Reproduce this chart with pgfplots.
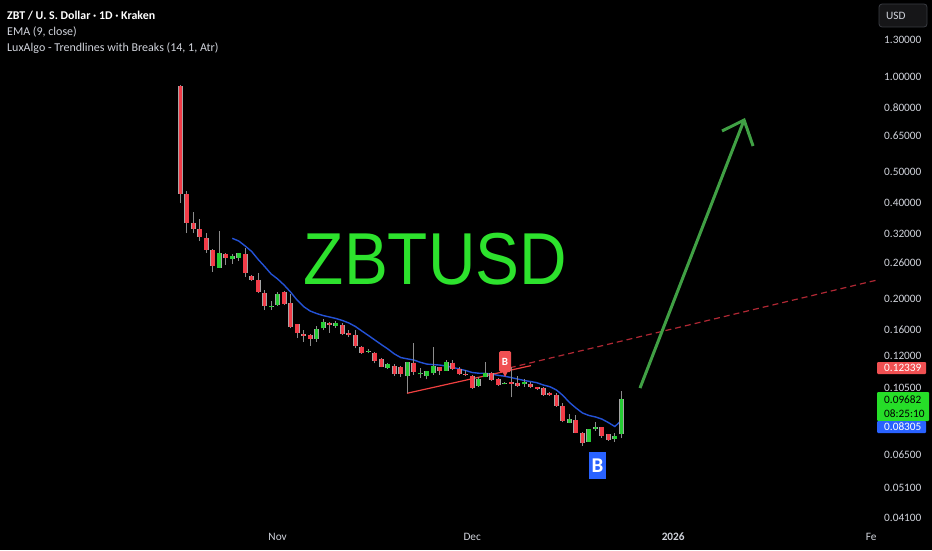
\documentclass[border=0pt]{standalone}
\usepackage{fontspec}
\setmainfont{Carlito}
\newfontfamily\arialf{Liberation Sans}
\usepackage{graphicx}
\usepackage{pgfplots}
\usepackage{pgfplotstable}
\pgfplotsset{compat=1.18}
\definecolor{tvtext}{RGB}{209,212,220}
\definecolor{cred}{RGB}{242,60,72}
\definecolor{cgreen}{RGB}{38,204,52}
\definecolor{cborder}{RGB}{165,165,165}
\definecolor{cwick}{RGB}{140,140,140}
\definecolor{emablue}{RGB}{36,82,214}
\definecolor{trendred}{RGB}{240,64,64}
\definecolor{dashred}{RGB}{176,40,52}
\definecolor{arrowgreen}{RGB}{64,160,68}
\definecolor{bigtext}{RGB}{45,226,45}
\definecolor{lblred}{RGB}{240,80,82}
\definecolor{lblgreen}{RGB}{38,222,40}
\definecolor{lblblue}{RGB}{41,98,255}

% wicks: low / high per day, nan separates candles
\pgfplotstableread{
d p
-15 0.4005
-15 0.940
nan nan
-14 0.3224
-14 0.4369
nan nan
-13 0.3224
-13 0.3753
nan nan
-12 0.3043
-12 0.3568
nan nan
-11 0.2790
-11 0.3224
nan nan
-10 0.2432
-10 0.2870
nan nan
-9 0.2503
-9 0.3271
nan nan
-8 0.2558
-8 0.2790
nan nan
-7 0.2576
-7 0.2770
nan nan
-6 0.2633
-6 0.2790
nan nan
-5 0.2345
-5 0.2893
nan nan
-4 0.2278
-4 0.2379
nan nan
-3 0.2088
-3 0.2414
nan nan
-2 0.1847
-2 0.2134
nan nan
-1 0.1847
-1 0.1971
nan nan
0 0.1901
0 0.2103
nan nan
1 0.1915
1 0.2119
nan nan
2 0.1618
2 0.2073
nan nan
3 0.1508
3 0.1669
nan nan
4 0.1468
4 0.1598
nan nan
5 0.1426
5 0.1558
nan nan
6 0.1468
6 0.1649
nan nan
7 0.1598
7 0.1727
nan nan
8 0.1567
8 0.1689
nan nan
9 0.1625
9 0.1702
nan nan
10 0.1541
10 0.1677
nan nan
11 0.1516
11 0.1601
nan nan
12 0.1399
12 0.1598
nan nan
13 0.1344
13 0.1423
nan nan
14 0.1350
14 0.1390
nan nan
15 0.1256
15 0.1366
nan nan
16 0.1220
16 0.1302
nan nan
17 0.1205
17 0.1261
nan nan
18 0.1145
18 0.1247
nan nan
19 0.1137
19 0.1231
nan nan
20 0.1011
20 0.1265
nan nan
21 0.1154
21 0.1457
nan nan
22 0.1129
22 0.1218
nan nan
23 0.1119
23 0.1187
nan nan
24 0.1154
24 0.1416
nan nan
25 0.1154
25 0.1220
nan nan
26 0.1190
26 0.1286
nan nan
27 0.1196
27 0.1286
nan nan
28 0.1154
28 0.1222
nan nan
29 0.1144
29 0.1200
nan nan
30 0.1043
30 0.1151
nan nan
31 0.1060
31 0.1134
nan nan
32 0.1134
32 0.1270
nan nan
33 0.1107
33 0.1181
nan nan
34 0.1066
34 0.1127
nan nan
35 0.1079
35 0.1099
nan nan
36 0.0982
36 0.1225
nan nan
37 0.1060
37 0.1144
nan nan
38 0.1060
38 0.1119
nan nan
39 0.1048
39 0.1099
nan nan
40 0.1035
40 0.1060
nan nan
41 0.0991
41 0.1056
nan nan
42 0.0991
42 0.1022
nan nan
43 0.0917
43 0.1011
nan nan
44 0.0819
44 0.0940
nan nan
45 0.0813
45 0.0870
nan nan
46 0.0757
46 0.0864
nan nan
47 0.0692
47 0.0766
nan nan
48 0.0712
48 0.0779
nan nan
49 0.0771
49 0.0819
nan nan
50 0.0733
50 0.0790
nan nan
51 0.0717
51 0.0753
nan nan
52 0.0712
52 0.0757
nan nan
53 0.0730
53 0.1028
}\wicks

% red (falling) bodies: open / close
\pgfplotstableread{
d p
-15 0.934
-15 0.4275
nan nan
-14 0.4275
-14 0.3466
nan nan
-13 0.3466
-13 0.3319
nan nan
-12 0.3319
-12 0.3132
nan nan
-11 0.3110
-11 0.2851
nan nan
-10 0.2851
-10 0.2539
nan nan
-8 0.2770
-8 0.2691
nan nan
-5 0.2770
-5 0.2414
nan nan
-4 0.2362
-4 0.2295
nan nan
-3 0.2295
-3 0.2103
nan nan
-2 0.2088
-2 0.1901
nan nan
1 0.2099
1 0.1928
nan nan
2 0.1938
2 0.1637
nan nan
3 0.1665
3 0.1560
nan nan
4 0.1552
4 0.1525
nan nan
5 0.1536
5 0.1497
nan nan
8 0.1687
8 0.1655
nan nan
10 0.1653
10 0.1549
nan nan
11 0.1560
11 0.1536
nan nan
12 0.1538
12 0.1420
nan nan
13 0.1416
13 0.1353
nan nan
15 0.1356
15 0.1279
nan nan
16 0.1295
16 0.1225
nan nan
18 0.1231
18 0.1166
nan nan
19 0.1220
19 0.1162
nan nan
21 0.1261
21 0.1179
nan nan
25 0.1220
25 0.1190
nan nan
27 0.1263
27 0.1202
nan nan
28 0.1203
28 0.1160
nan nan
29 0.1162
29 0.1151
nan nan
30 0.1143
30 0.1048
nan nan
33 0.1168
33 0.1113
nan nan
34 0.1119
34 0.1073
nan nan
36 0.1095
36 0.1079
nan nan
37 0.1087
37 0.1068
nan nan
39 0.1079
39 0.1056
nan nan
40 0.1056
40 0.1043
nan nan
41 0.1048
41 0.0998
nan nan
42 0.1015
42 0.0998
nan nan
43 0.0998
43 0.0922
nan nan
44 0.0922
44 0.0827
nan nan
46 0.0833
46 0.0760
nan nan
47 0.0757
47 0.0704
nan nan
50 0.0790
50 0.0742
nan nan
51 0.0753
51 0.0721
}\redbodies

% green (rising) bodies: open / close
\pgfplotstableread{
d p
-9 0.2503
-9 0.2790
nan nan
-7 0.2671
-7 0.2730
nan nan
-6 0.2700
-6 0.2780
nan nan
-1 0.1887
-1 0.1901
nan nan
0 0.1921
0 0.2073
nan nan
6 0.1497
6 0.1610
nan nan
7 0.1618
7 0.1693
nan nan
9 0.1649
9 0.1677
nan nan
14 0.1363
14 0.1371
nan nan
17 0.1212
17 0.1247
nan nan
20 0.1145
20 0.1265
nan nan
22 0.1159
22 0.1168
nan nan
23 0.1145
23 0.1187
nan nan
24 0.1170
24 0.1234
nan nan
26 0.1190
26 0.1268
nan nan
31 0.1067
31 0.1123
nan nan
32 0.1134
32 0.1173
nan nan
35 0.1079
35 0.1089
nan nan
38 0.1079
38 0.1095
nan nan
45 0.0817
45 0.0839
nan nan
48 0.0712
48 0.0779
nan nan
49 0.0779
49 0.0794
nan nan
52 0.0726
52 0.0744
nan nan
53 0.0751
53 0.09682
}\greenbodies

% EMA (9, close)
\pgfplotstableread{
d p
-7 0.3103
-6 0.3043
-5 0.2935
-4 0.2820
-3 0.2663
-2 0.2530
-1 0.2397
0 0.2312
1 0.2213
2 0.2103
3 0.1985
4 0.1894
5 0.1834
6 0.1801
7 0.1775
8 0.1756
9 0.1737
10 0.1712
11 0.1681
12 0.1639
13 0.1586
14 0.1536
15 0.1486
16 0.1438
17 0.1393
18 0.1344
19 0.1309
20 0.1297
21 0.1286
22 0.1265
23 0.1249
24 0.1244
25 0.1240
26 0.1231
27 0.1220
28 0.1205
29 0.1192
30 0.1175
31 0.1169
32 0.1168
33 0.1162
34 0.1151
35 0.1144
36 0.1133
37 0.1121
38 0.1109
39 0.1101
40 0.1091
41 0.1073
42 0.1060
43 0.1035
44 0.0995
45 0.0946
46 0.0909
47 0.0877
48 0.0861
49 0.0852
50 0.0839
51 0.0818
52 0.0795
53 0.08305
}\ema

\begin{document}
\begin{tikzpicture}
\useasboundingbox (0pt,0pt) rectangle (932pt,550pt);
\fill[black] (0pt,0pt) rectangle (932pt,550pt);
\begin{axis}[
  at={(0pt,23pt)}, anchor=south west,
  scale only axis, width=876pt, height=527pt,
  xmin=-42.81, xmax=92.27,
  ymode=log, ymin=0.03842, ymax=1.7403,
  axis line style={draw=none},
  tick style={draw=none},
  major tick length=0pt, minor tick length=0pt,
  xtick={0,30,61,92},
  xticklabels={Nov,Dec,\textbf{2026},Feb},
  xticklabel style={anchor=center, inner sep=0pt, yshift=-9.5pt,
    font=\fontsize{11.3}{13}\selectfont, text=tvtext},
  ytick={1.3,1,0.8,0.65,0.5,0.4,0.32,0.26,0.2,0.16,0.105,0.065,0.051,0.041},
  yticklabels={1.30000,1.00000,0.80000,0.65000,0.50000,0.40000,0.32000,0.26000,0.20000,0.16000,0.10500,0.06500,0.05100,0.04100},
  yticklabel pos=right,
  yticklabel style={anchor=west, inner sep=0pt, xshift=8pt,
    font=\fontsize{11.3}{13}\selectfont, text=tvtext},
  unbounded coords=jump,
]
% EMA
\addplot[emablue, line width=1.4pt, mark=none] table[x=d,y=p] {\ema};
% trendline (solid part and dashed extension)
\addplot[trendred, line width=1.2pt, mark=none] coordinates {(19.95,0.1011) (39.07,0.1235)};
\addplot[dashred, line width=1.2pt, dash pattern=on 6pt off 4pt, mark=none] coordinates {(35.8,0.1216) (92.27,0.2290)};
% candles
\addplot[cwick, line width=1pt, mark=none] table[x=d,y=p] {\wicks};
\addplot[cborder, line width=5pt, mark=none] table[x=d,y=p] {\redbodies};
\addplot[cred, line width=3.6pt, mark=none] table[x=d,y=p] {\redbodies};
\addplot[cborder, line width=5pt, mark=none] table[x=d,y=p] {\greenbodies};
\addplot[cgreen, line width=3.6pt, mark=none] table[x=d,y=p] {\greenbodies};
% drawn arrow
\addplot[arrowgreen, line width=3pt, mark=none] coordinates {(55.88,0.1050) (71.93,0.7303)};
\addplot[arrowgreen, line width=3pt, mark=none, line join=miter] coordinates {(68.53,0.6744) (71.93,0.7303) (73.31,0.6051)};
\end{axis}
\begin{scope}[shift={(0pt,550pt)}, x=1pt, y=-1pt]
  % clip the time-scale label under the price scale
  \fill[black] (876,527) rectangle (932,550);
  % header
  \node[anchor=base west, inner sep=0pt, text=white, font=\fontsize{11.9}{13}\selectfont\bfseries] at (7,19.8) {ZBT / U. S. Dollar · 1D · Kraken};
  \node[anchor=base west, inner sep=0pt, text=tvtext, font=\fontsize{12}{13}\selectfont] at (7,36) {EMA (9, close)};
  \node[anchor=base west, inner sep=0pt, text=tvtext, font=\fontsize{12}{13}\selectfont] at (7,52) {LuxAlgo - Trendlines with Breaks (14, 1, Atr)};
  % big title
  \node[inner sep=0pt, text=bigtext, font=\arialf\fontsize{73.6}{80}\selectfont] at (435.5,258.7) {\scalebox{0.894}[1]{ZBTUSD}};
  % USD button
  \draw[draw={rgb,255:red,58;green,60;blue,66}, fill={rgb,255:red,22;green,22;blue,24}, rounded corners=3pt, line width=0.8pt] (879,4) rectangle (927,27);
  \node[anchor=west, inner sep=0pt, text=tvtext, font=\fontsize{11.3}{13}\selectfont] at (886,15.5) {USD};
  % scale label just above the red price label
  \node[anchor=west, inner sep=0pt, text=tvtext, font=\fontsize{11.3}{13}\selectfont] at (884,356) {0.12000};
  % price labels
  \fill[lblred, rounded corners=1pt] (877,362) rectangle (926,374);
  \node[anchor=west, inner sep=0pt, text=white, font=\fontsize{11.3}{13}\selectfont] at (884,368) {0.12339};
  \fill[lblgreen, rounded corners=1pt] (877,392) rectangle (929,421);
  \node[anchor=west, inner sep=0pt, text=black, font=\fontsize{11.3}{13}\selectfont] at (884,399.5) {0.09682};
  \node[anchor=west, inner sep=0pt, text=black, font=\fontsize{11.3}{13}\selectfont] at (884,413.5) {08:25:10};
  \fill[lblblue, rounded corners=1pt] (877,421) rectangle (926,433);
  \node[anchor=west, inner sep=0pt, text=white, font=\fontsize{11.3}{13}\selectfont] at (884,427) {0.08305};
  % break labels
  \fill[lblred, rounded corners=1.5pt] (499,351) rectangle (511,372);
  \fill[lblred] (502,371) -- (508,371) -- (505,377) -- cycle;
  \node[inner sep=0pt, text=white, font=\fontsize{11}{13}\selectfont\bfseries] at (505,361.5) {B};
  \fill[lblblue] (589,452.3) rectangle (605.7,479.3);
  \node[inner sep=0pt, text=white, font=\fontsize{21}{24}\selectfont\bfseries] at (597.4,465.8) {B};
\end{scope}
\end{tikzpicture}
\end{document}
